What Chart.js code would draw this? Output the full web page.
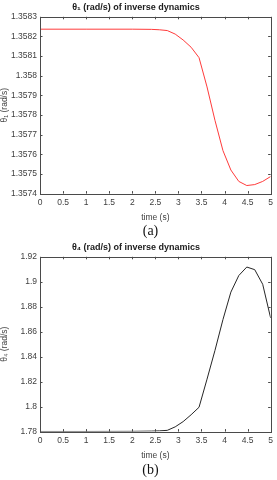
<!DOCTYPE html>
<html>
<head>
<meta charset="utf-8">
<script src="https://cdn.jsdelivr.net/npm/chart.js@4.4.1/dist/chart.umd.min.js"></script>
<style>
  html, body { margin: 0; padding: 0; background: #ffffff; }
  body { width: 277px; height: 480px; position: relative; overflow: hidden; font-family: "Liberation Sans", Arial, sans-serif; }
  .wrap { position: absolute; left: 0; width: 277px; }
  .cap { position: absolute; left: 0; width: 277px; text-align: center; font-family: "Liberation Serif", "Times New Roman", serif; font-size: 14px; color: #111; line-height: 15px; }
</style>
</head>
<body>
<div class="wrap" style="top:0px;height:224px;"><canvas id="c1" width="277" height="224"></canvas></div>
<div class="cap" style="top:223px;padding-left:12px;">(a)</div>
<div class="wrap" style="top:240px;height:222px;"><canvas id="c2" width="277" height="222"></canvas></div>
<div class="cap" style="top:462px;padding-left:12px;">(b)</div>
<script>
// ---- data ----
const timeS = [0, 1.0, 2.0, 2.414, 2.586, 2.759, 2.931, 3.103, 3.276, 3.448, 3.621, 3.793, 3.966, 4.138, 4.310, 4.483, 4.655, 4.828, 5.0];
const theta1 = [1.358237, 1.358237, 1.358237, 1.358236, 1.358234, 1.358230, 1.358212, 1.358182, 1.358145, 1.358092, 1.357943, 1.357773, 1.357619, 1.357520, 1.357462, 1.357441, 1.357446, 1.357462, 1.357487];
const theta4 = [1.7801, 1.7801, 1.7802, 1.7804, 1.7806, 1.7810, 1.7838, 1.7880, 1.7935, 1.7995, 1.8220, 1.8450, 1.8697, 1.8917, 1.9050, 1.9118, 1.9097, 1.8980, 1.8710];
const xTicks = [0, 0.5, 1, 1.5, 2, 2.5, 3, 3.5, 4, 4.5, 5];
const y1Range = [1.3574, 1.3583];
const y1Step = 0.0001;
const y2Range = [1.78, 1.92];
const y2Step = 0.02;
const title1 = "\u03B8\u2081 (rad/s) of inverse dynamics";
const title2 = "\u03B8\u2084 (rad/s) of inverse dynamics";
const yTitle1 = "\u03B8\u2081 (rad/s)";
const yTitle2 = "\u03B8\u2084 (rad/s)";
const xTitle = "time (s)";

const FONT = "'Liberation Sans', Arial, sans-serif";
const AXIS_COLOR = "#4a4a4a";
const TEXT_COLOR = "#404040";

// frame + inward ticks (MATLAB style) drawn from the scales
const framePlugin = {
  id: 'frame',
  afterDraw(chart) {
    const { ctx, chartArea: a, scales } = chart;
    ctx.save();
    ctx.strokeStyle = AXIS_COLOR;
    ctx.lineWidth = 1;
    ctx.strokeRect(Math.round(a.left) + 0.5, Math.round(a.top) + 0.5, Math.round(a.right - a.left), Math.round(a.bottom - a.top));
    const tl = 2.5;
    ctx.beginPath();
    scales.x.ticks.forEach(t => {
      const px = Math.round(scales.x.getPixelForValue(t.value)) + 0.5;
      ctx.moveTo(px, a.bottom); ctx.lineTo(px, a.bottom - tl);
      ctx.moveTo(px, a.top); ctx.lineTo(px, a.top + tl);
    });
    scales.y.ticks.forEach(t => {
      const py = Math.round(scales.y.getPixelForValue(t.value)) + 0.5;
      ctx.moveTo(a.left, py); ctx.lineTo(a.left + tl, py);
      ctx.moveTo(a.right, py); ctx.lineTo(a.right - tl, py);
    });
    ctx.stroke();
    ctx.restore();
  }
};

function makeChart(id, values, color, yRange, yStep, decimals, title, yTitle) {
  const pts = timeS.map((t, i) => ({ x: t, y: values[i] }));
  return new Chart(document.getElementById(id), {
    type: 'line',
    data: { datasets: [{ data: pts, borderColor: color, borderWidth: 1, pointRadius: 0, tension: 0, fill: false }] },
    options: {
      responsive: false,
      animation: false,
      devicePixelRatio: 1,
      layout: { padding: { left: 0, right: 5, top: 0, bottom: 0 } },
      plugins: {
        legend: { display: false },
        tooltip: { enabled: false },
        title: { display: true, text: title, color: '#202020', font: { family: FONT, size: 9, weight: 'bold' }, padding: { top: 2, bottom: 4 } }
      },
      scales: {
        x: {
          type: 'linear', min: 0, max: 5,
          afterBuildTicks(s) { s.ticks = xTicks.map(v => ({ value: v })); },
          ticks: { color: TEXT_COLOR, font: { family: FONT, size: 8.5 }, padding: 4, maxRotation: 0, autoSkip: false,
                   callback: v => String(parseFloat(Number(v).toFixed(2))) },
          grid: { display: false, drawTicks: false },
          border: { display: false },
          title: { display: true, text: xTitle, color: TEXT_COLOR, font: { family: FONT, size: 8.5 }, padding: { top: 1, bottom: 1 } }
        },
        y: {
          type: 'linear', min: yRange[0], max: yRange[1],
          ticks: { stepSize: yStep, color: TEXT_COLOR, font: { family: FONT, size: 8.5 }, padding: 3, autoSkip: false,
                   callback: v => String(parseFloat(Number(v).toFixed(decimals))) },
          grid: { display: false, drawTicks: false },
          border: { display: false },
          title: { display: true, text: yTitle, color: TEXT_COLOR, font: { family: FONT, size: 8.5 }, padding: { top: 0, bottom: 0 } },
          afterFit(s) { s.width = 40; }
        }
      }
    },
    plugins: [framePlugin]
  });
}

makeChart('c1', theta1, '#ff3b3b', y1Range, y1Step, 4, title1, yTitle1);
makeChart('c2', theta4, '#262626', y2Range, y2Step, 2, title2, yTitle2);
</script>
</body>
</html>
